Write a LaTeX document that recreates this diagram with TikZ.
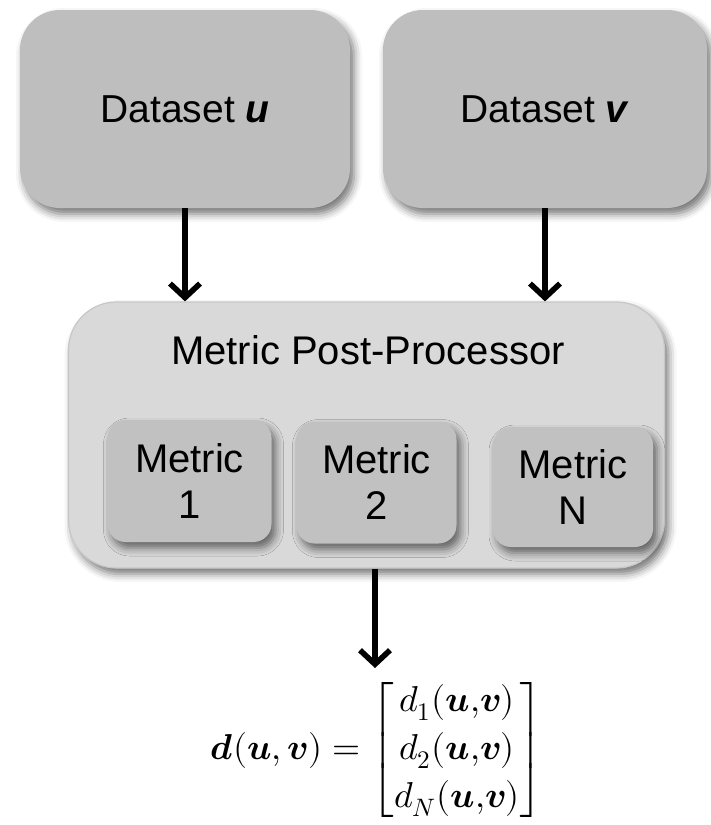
\documentclass[tikz,border=0pt]{standalone}
\usepackage{fontspec}
\usepackage{amsmath}
\usepackage{unicode-math}
\setmainfont{Liberation Sans}
\setmathfont{Latin Modern Math}
\usetikzlibrary{arrows.meta,positioning,shadows.blur}

\definecolor{datagray}{RGB}{190,190,190}
\definecolor{procgray}{RGB}{217,217,217}
\definecolor{metricgray}{RGB}{193,193,193}

\begin{document}
\begin{tikzpicture}[x=0.5pt,y=-0.5pt,
    >={Straight Barb[length=7pt,width=15pt]},
    boxshadow/.style={blur shadow={shadow xshift=2pt,shadow yshift=-3pt,shadow blur radius=4pt,shadow opacity=55}},
    databox/.style={fill=datagray, rounded corners=20pt, boxshadow, font=\fontsize{19.5}{23}\selectfont},
    procbox/.style={fill=procgray, draw=black!22, line width=0.6pt, rounded corners=24pt, boxshadow},
    metricbox/.style={fill=metricgray, rounded corners=9pt, boxshadow, align=center, font=\fontsize{20}{23}\selectfont},
    flow/.style={->, line width=2.8pt}]

        \useasboundingbox (0,0) rectangle (711,825);

        % input datasets
        \node[databox, minimum width=165pt, minimum height=99pt] (dsu) at (185, 109) {Dataset \textbf{\textit{u}}};
        \node[databox, minimum width=162pt, minimum height=99pt] (dsv) at (545, 109) {Dataset \textbf{\textit{v}}};

        % post-processor with its metrics
        \node[procbox, minimum width=298pt, minimum height=133pt] (mpp) at (366.5, 435) {};
        \node[font=\fontsize{20}{24}\selectfont] (title) at (368, 350) {Metric Post-Processor};
        \node[metricbox, minimum width=82pt, minimum height=61pt] (m1) at (189.5, 481) {Metric\\1};
        \node[metricbox, minimum width=80pt, minimum height=61pt] (m2) at (376.5, 482.5) {Metric\\2};
        \node[metricbox, minimum width=80pt, minimum height=60pt] (mN) at (573, 487) {Metric\\N};

        % result
        \node[font=\fontsize{18}{21}\selectfont, inner sep=0pt] (eq) at (377, 750)
          {$\renewcommand{\arraystretch}{1.15}\symbfit{d}(\symbfit{u},\symbfit{v}) = \begin{bmatrix} d_1(\symbfit{u}{,}\symbfit{v})\\ d_2(\symbfit{u}{,}\symbfit{v})\\ d_N(\symbfit{u}{,}\symbfit{v}) \end{bmatrix}$};
        \coordinate (out) at (375, 668);

        \draw[flow] (dsu.south) -- (dsu.south |- mpp.north);
        \draw[flow] (dsv.south) -- (dsv.south |- mpp.north);
        \draw[flow] (out |- mpp.south) -- (out);
      \end{tikzpicture}
\end{document}
